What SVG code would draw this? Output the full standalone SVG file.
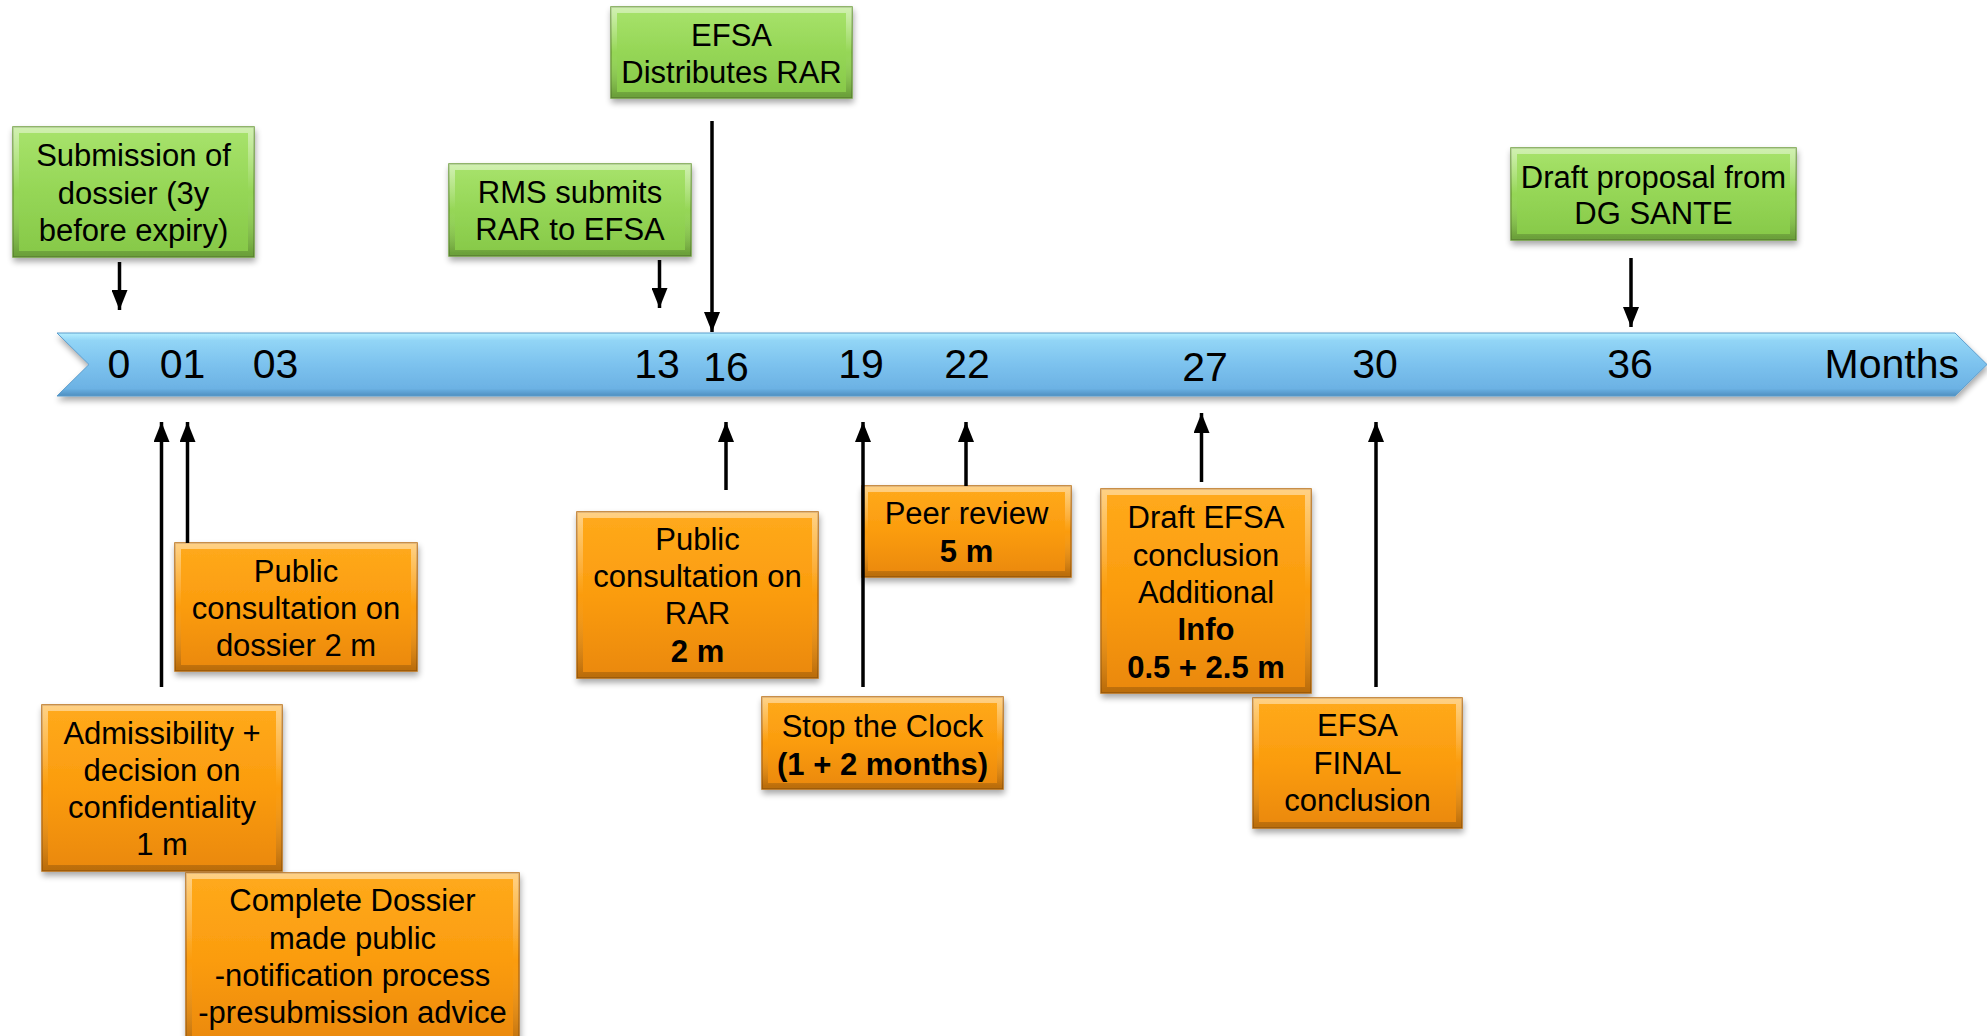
<svg xmlns="http://www.w3.org/2000/svg" width="1987" height="1036" viewBox="0 0 1987 1036">
<defs>
<linearGradient id="gGreen" x1="0" y1="0" x2="0" y2="1">
<stop offset="0" stop-color="#a8e36c"/><stop offset="0.5" stop-color="#95d656"/><stop offset="1" stop-color="#86c848"/>
</linearGradient>
<linearGradient id="gOrange" x1="0" y1="0" x2="0" y2="1">
<stop offset="0" stop-color="#ffaa1c"/><stop offset="0.5" stop-color="#fb9c0e"/><stop offset="1" stop-color="#ea880c"/>
</linearGradient>
<linearGradient id="gBlue" x1="0" y1="0" x2="0" y2="1">
<stop offset="0" stop-color="#b6efff"/><stop offset="0.12" stop-color="#92d5f6"/><stop offset="0.5" stop-color="#7cc2ee"/><stop offset="0.88" stop-color="#6cb2e4"/><stop offset="1" stop-color="#4f8fc0"/>
</linearGradient>
<linearGradient id="gBevel" x1="0" y1="0" x2="0" y2="1">
<stop offset="0" stop-color="#ffffff" stop-opacity="0.45"/><stop offset="0.5" stop-color="#ffffff" stop-opacity="0"/><stop offset="1" stop-color="#000000" stop-opacity="0.2"/>
</linearGradient>
<filter id="shadow" x="-10%" y="-10%" width="120%" height="130%">
<feGaussianBlur in="SourceAlpha" stdDeviation="3"/>
<feOffset dx="1" dy="4" result="b"/>
<feComponentTransfer><feFuncA type="linear" slope="0.35"/></feComponentTransfer>
<feMerge><feMergeNode/><feMergeNode in="SourceGraphic"/></feMerge>
</filter>
<marker id="ah" markerUnits="userSpaceOnUse" markerWidth="20" markerHeight="16" viewBox="0 0 20 16" refX="20" refY="8" orient="auto">
<path d="M0,0 L20,8 L0,16 Z" fill="#000"/>
</marker>
</defs>
<style>
.green{fill:url(#gGreen);stroke:#6f9e3c;stroke-width:1.5;filter:url(#shadow)}
.orange{fill:url(#gOrange);stroke:#b96c0a;stroke-width:1.5;filter:url(#shadow)}
.bevel{fill:none;stroke:url(#gBevel);stroke-width:6}
.t{font-family:"Liberation Sans",Arial,sans-serif;font-size:31px;fill:#000;text-anchor:middle}
.b{font-weight:bold}
.num{font-family:"Liberation Sans",Arial,sans-serif;font-size:41px;fill:#000;text-anchor:middle}
.conn line{stroke:#000;stroke-width:3.5}
</style>
<rect width="1987" height="1036" fill="#ffffff"/>

<g id="timeline">
<path d="M57,333 L1955,333 L1987,364.5 L1955,396 L57,396 L89,364.5 Z" fill="url(#gBlue)" stroke="#5b9ccc" stroke-width="1" filter="url(#shadow)"/>
<text class="num" x="119" y="378">0</text>
<text class="num" x="182.5" y="378">01</text>
<text class="num" x="275.5" y="378">03</text>
<text class="num" x="657" y="378">13</text>
<text class="num" x="726" y="381">16</text>
<text class="num" x="861" y="378">19</text>
<text class="num" x="967" y="378">22</text>
<text class="num" x="1205" y="381">27</text>
<text class="num" x="1375" y="378">30</text>
<text class="num" x="1630" y="378">36</text>
<text class="num" x="1959" y="378" style="text-anchor:end">Months</text>
</g>

<g id="submission">
<rect class="green" x="13" y="127" width="241" height="130"/>
<rect class="bevel" x="16" y="130" width="235" height="124"/>
<text class="t" x="133.5" y="166">Submission of</text>
<text class="t" x="133.5" y="203.5">dossier (3y</text>
<text class="t" x="133.5" y="241">before expiry)</text>
</g>
<g id="rms-submits">
<rect class="green" x="449" y="164" width="242" height="92"/>
<rect class="bevel" x="452" y="167" width="236" height="86"/>
<text class="t" x="570" y="203">RMS submits</text>
<text class="t" x="570" y="239.5">RAR to EFSA</text>
</g>
<g id="efsa-distributes">
<rect class="green" x="611" y="7" width="241" height="91"/>
<rect class="bevel" x="614" y="10" width="235" height="85"/>
<text class="t" x="731.5" y="46">EFSA</text>
<text class="t" x="731.5" y="82.5">Distributes RAR</text>
</g>
<g id="draft-proposal">
<rect class="green" x="1511" y="148" width="285" height="92"/>
<rect class="bevel" x="1514" y="151" width="279" height="86"/>
<text class="t" x="1653.5" y="187.5">Draft proposal from</text>
<text class="t" x="1653.5" y="224">DG SANTE</text>
</g>

<g id="public-consultation-dossier">
<rect class="orange" x="175" y="543" width="242" height="128"/>
<rect class="bevel" x="178" y="546" width="236" height="122"/>
<text class="t" x="296" y="581.5">Public</text>
<text class="t" x="296" y="618.5">consultation on</text>
<text class="t" x="296" y="655.5">dossier 2 m</text>
</g>
<g id="admissibility">
<rect class="orange" x="42" y="705" width="240" height="166"/>
<rect class="bevel" x="45" y="708" width="234" height="160"/>
<text class="t" x="162" y="744">Admissibility +</text>
<text class="t" x="162" y="781">decision on</text>
<text class="t" x="162" y="818">confidentiality</text>
<text class="t" x="162" y="855">1 m</text>
</g>
<g id="complete-dossier">
<rect class="orange" x="186" y="873" width="333" height="175"/>
<rect class="bevel" x="189" y="876" width="327" height="169"/>
<text class="t" x="352.5" y="911">Complete Dossier</text>
<text class="t" x="352.5" y="948.5">made public</text>
<text class="t" x="352.5" y="985.5">-notification process</text>
<text class="t" x="352.5" y="1022.5">-presubmission advice</text>
</g>
<g id="public-consultation-rar">
<rect class="orange" x="577" y="512" width="241" height="166"/>
<rect class="bevel" x="580" y="515" width="235" height="160"/>
<text class="t" x="697.5" y="549.5">Public</text>
<text class="t" x="697.5" y="587">consultation on</text>
<text class="t" x="697.5" y="624">RAR</text>
<text class="t b" x="697.5" y="662">2 m</text>
</g>
<g id="peer-review">
<rect class="orange" x="862" y="486" width="209" height="91"/>
<rect class="bevel" x="865" y="489" width="203" height="85"/>
<text class="t" x="966.5" y="524">Peer review</text>
<text class="t b" x="966.5" y="562">5 m</text>
</g>
<g id="stop-the-clock">
<rect class="orange" x="762" y="697" width="241" height="92"/>
<rect class="bevel" x="765" y="700" width="235" height="86"/>
<text class="t" x="882.5" y="736.5">Stop the Clock</text>
<text class="t b" x="882.5" y="775">(1 + 2 months)</text>
</g>
<g id="draft-efsa-conclusion">
<rect class="orange" x="1101" y="489" width="210" height="204"/>
<rect class="bevel" x="1104" y="492" width="204" height="198"/>
<text class="t" x="1206" y="528">Draft EFSA</text>
<text class="t" x="1206" y="566">conclusion</text>
<text class="t" x="1206" y="603">Additional</text>
<text class="t b" x="1206" y="640">Info</text>
<text class="t b" x="1206" y="677.5">0.5 + 2.5 m</text>
</g>
<g id="efsa-final">
<rect class="orange" x="1253" y="698" width="209" height="130"/>
<rect class="bevel" x="1256" y="701" width="203" height="124"/>
<text class="t" x="1357.5" y="736">EFSA</text>
<text class="t" x="1357.5" y="774">FINAL</text>
<text class="t" x="1357.5" y="811">conclusion</text>
</g>

<g id="connectors" class="conn">
<line x1="119.5" y1="262" x2="119.5" y2="310" marker-end="url(#ah)"/>
<line x1="659.5" y1="260" x2="659.5" y2="308" marker-end="url(#ah)"/>
<line x1="712" y1="121" x2="712" y2="332" marker-end="url(#ah)"/>
<line x1="1631" y1="258" x2="1631" y2="327" marker-end="url(#ah)"/>
<line x1="161.5" y1="687" x2="161.5" y2="422" marker-end="url(#ah)"/>
<line x1="187.5" y1="543" x2="187.5" y2="422" marker-end="url(#ah)"/>
<line x1="726" y1="490" x2="726" y2="422" marker-end="url(#ah)"/>
<line x1="863" y1="687" x2="863" y2="422" marker-end="url(#ah)"/>
<line x1="966" y1="486" x2="966" y2="422" marker-end="url(#ah)"/>
<line x1="1201.5" y1="482" x2="1201.5" y2="413" marker-end="url(#ah)"/>
<line x1="1376" y1="687" x2="1376" y2="422" marker-end="url(#ah)"/>
</g>
</svg>
